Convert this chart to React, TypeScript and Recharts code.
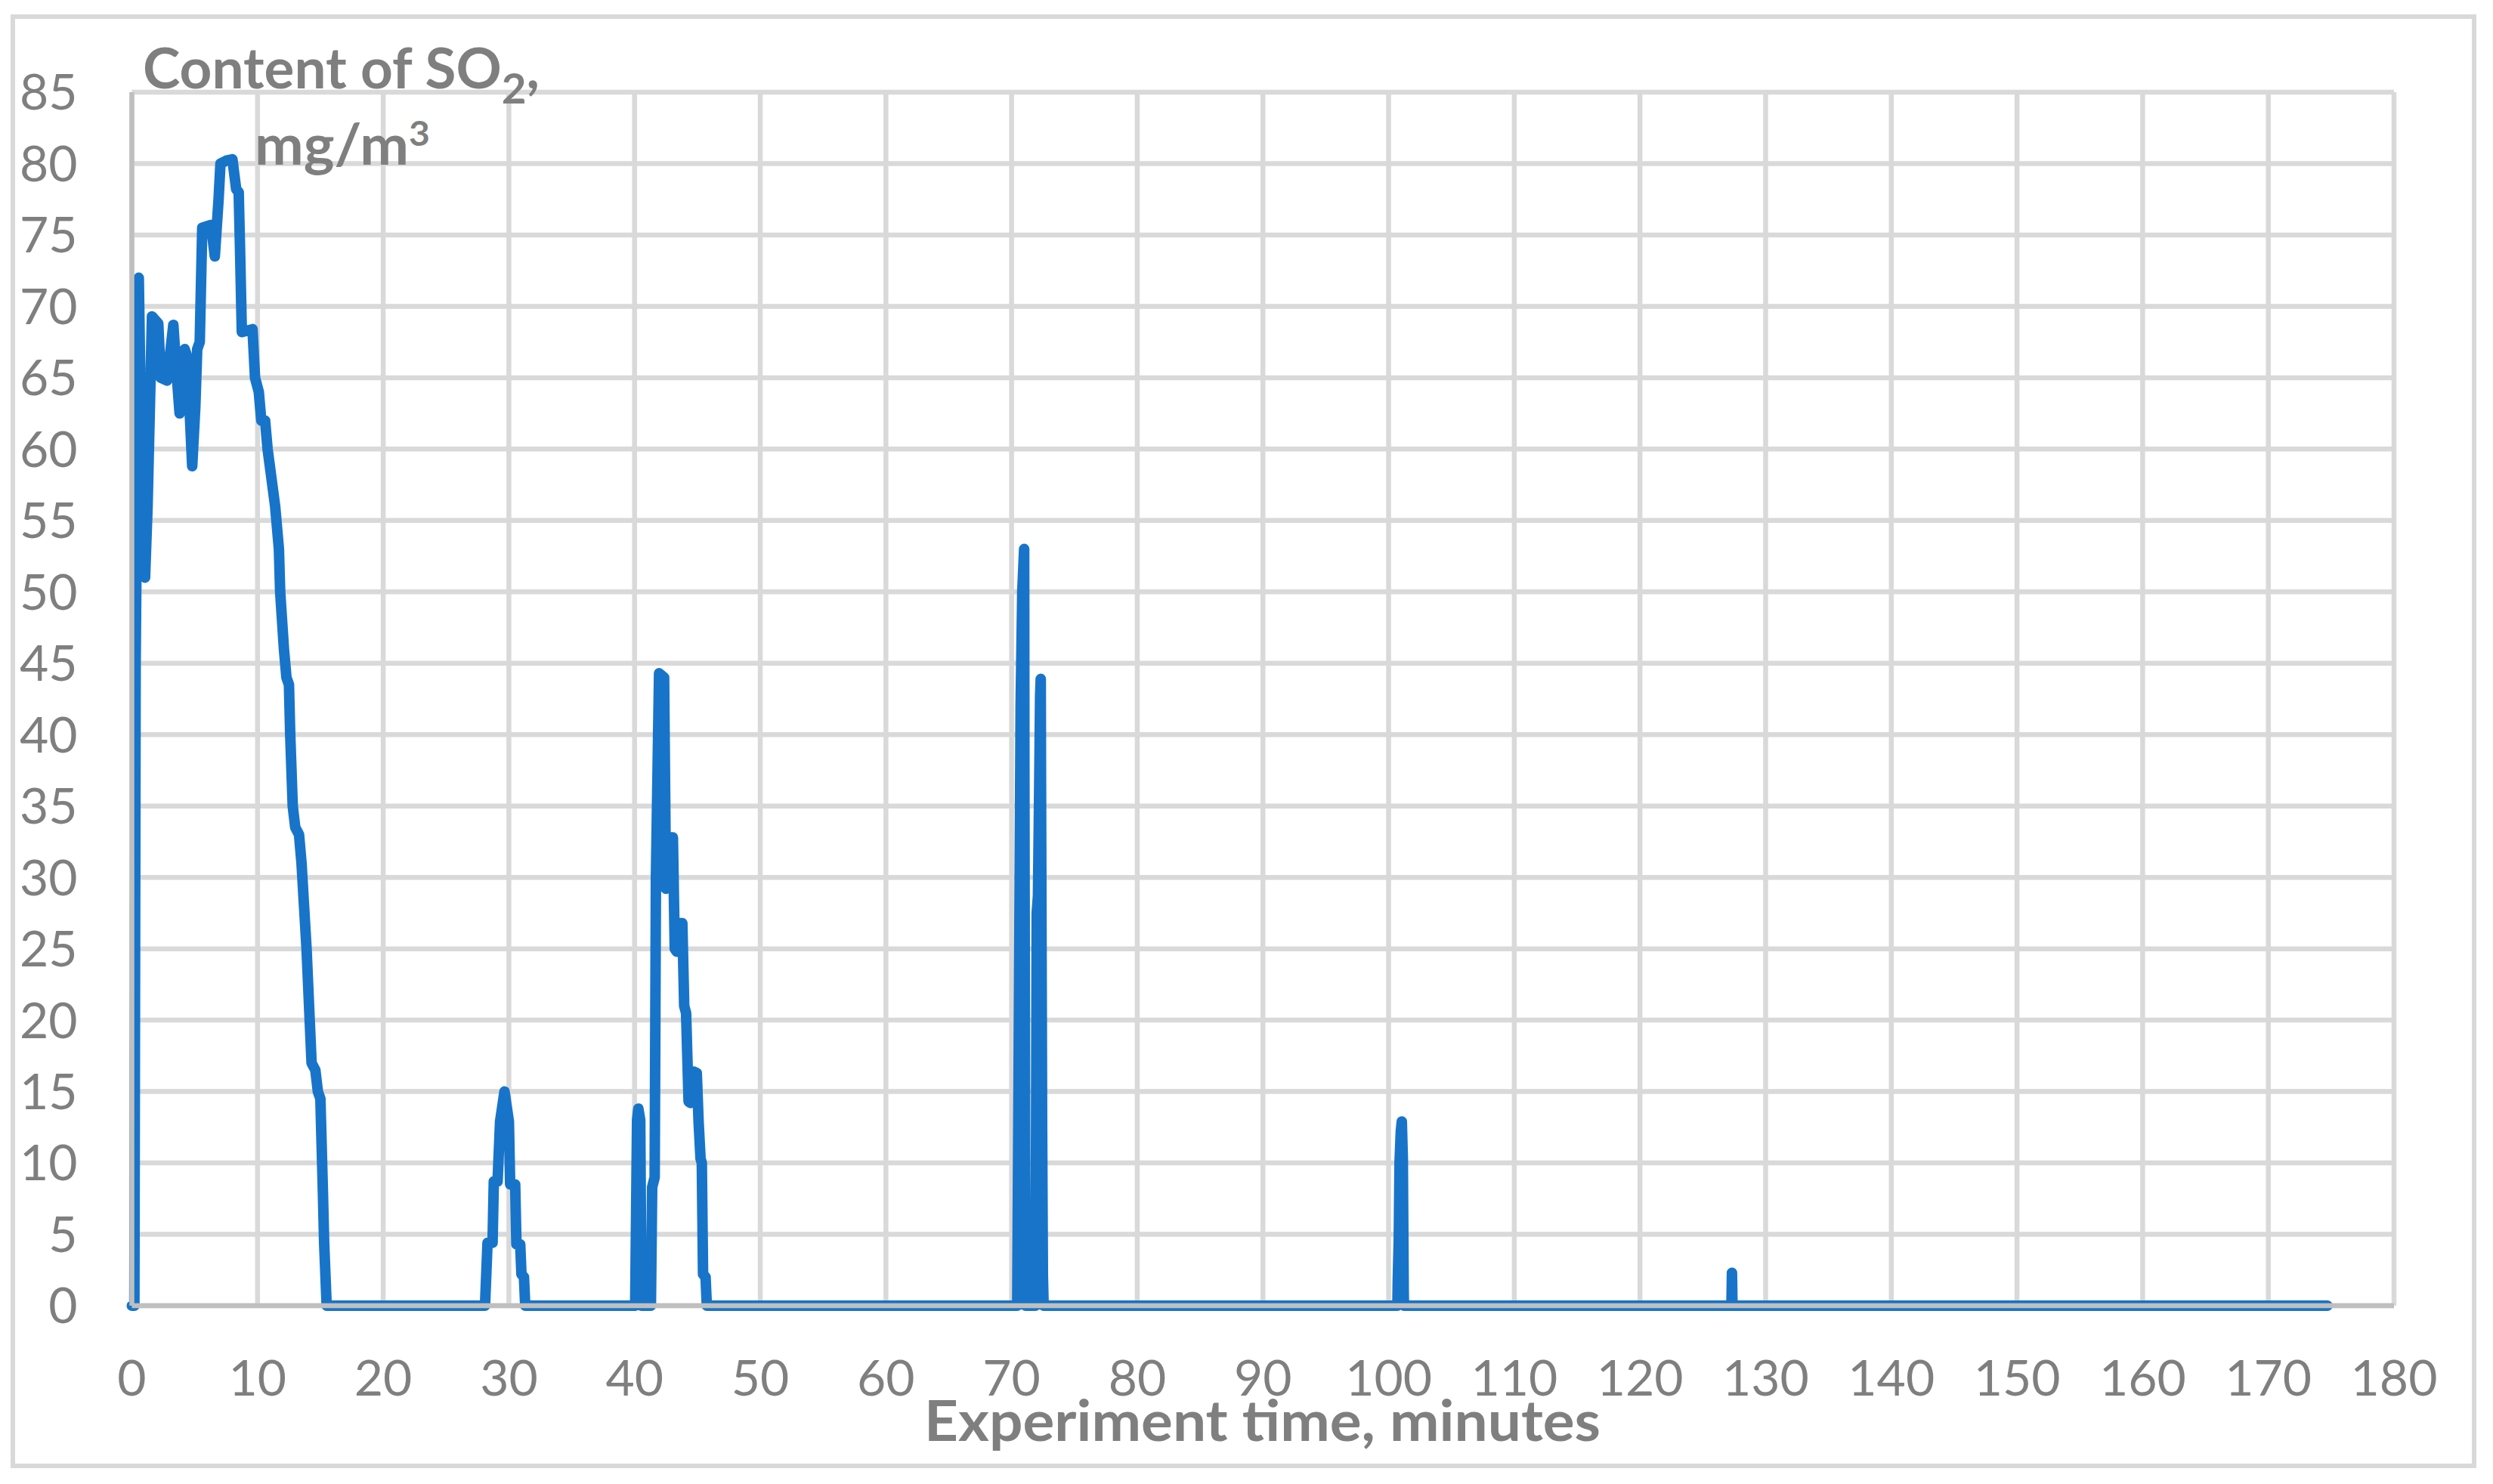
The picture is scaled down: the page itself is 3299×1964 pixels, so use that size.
import React from 'react';
import { LineChart, Line, XAxis, YAxis, CartesianGrid } from 'recharts';

// Experiment time, minutes
const timeMinutes: number[] = [
  0, 0.2, 0.3, 0.55, 0.75, 1.05, 1.25, 1.6, 2.1, 2.3, 2.8, 3.3, 3.5, 3.8, 4.0, 4.2, 4.4, 4.8, 5.05, 5.2, 5.4, 5.6, 6.3, 6.6, 6.9, 7.05, 7.5, 8.0, 8.3, 8.5, 8.6, 8.75, 9.6, 9.8, 10.1, 10.3, 10.6, 10.8, 11.1, 11.4, 11.7, 11.8, 12.1, 12.3, 12.5, 12.6, 12.8, 13.0, 13.3, 13.5, 13.7, 13.9, 14.1, 14.3, 14.6, 14.8, 15.0, 15.2, 15.3, 15.5,
  28.1, 28.3, 28.7, 28.8, 29.1, 29.2, 29.3, 29.65, 30.0, 30.1, 30.5, 30.6, 30.9, 31.0, 31.2, 31.3,
  40.05, 40.2, 40.3, 40.45, 40.55, 41.3, 41.4, 41.6, 41.7, 41.95, 42.35, 42.5, 42.7, 43.05, 43.2, 43.35, 43.5, 43.8, 43.95, 44.1, 44.3, 44.45, 44.7, 44.95, 45.1, 45.25, 45.35, 45.45, 45.65, 45.75,
  70.45, 70.55, 70.65, 70.72, 70.85, 71.0, 71.02, 71.08, 71.12,
  71.9, 71.95, 72.0, 72.1, 72.2, 72.27, 72.32, 72.34, 72.43, 72.49, 72.55,
  100.7, 100.73, 100.81, 100.87, 100.97, 101.05, 101.13, 101.2, 101.22,
  127.28, 127.32, 127.36,
  174.7,
];

// Content of SO2, mg/m3
const so2Values: number[] = [
  0, 0, 45, 72, 60, 51, 56, 69.3, 68.8, 65, 64.8, 68.7, 66, 62.5, 63, 67, 66.5, 58.8, 63, 67, 67.5, 75.5, 75.7, 73.5, 77.5, 80, 80.2, 80.3, 78.2, 78, 74.3, 68.2, 68.4, 65, 64, 62, 62, 60, 58, 56, 53, 50, 46, 44, 43.5, 40, 35, 33.5, 33, 31, 28, 25, 21, 17, 16.5, 15, 14.5, 8, 4.4, 0,
  0, 4.4, 4.4, 8.7, 8.7, 10.8, 12.9, 15, 12.9, 8.5, 8.5, 4.3, 4.3, 2.2, 2, 0,
  0, 13, 13.8, 13, 0, 0, 8.3, 9, 30, 44.3, 44, 29.2, 32.8, 32.8, 25, 24.8, 26.8, 26.8, 21, 20.5, 14.3, 14.2, 16.4, 16.3, 12.8, 10.3, 10, 2.2, 2, 0,
  0, 15, 31, 42, 50, 53, 36, 9.5, 0,
  0, 12, 27.5, 28.7, 36.5, 42.7, 43.9, 37, 12.3, 2.1, 0,
  0, 1.8, 4.7, 10, 12.2, 12.9, 10.3, 1, 0,
  0, 2.3, 0,
  0,
];

const xTicks: number[] = [0, 10, 20, 30, 40, 50, 60, 70, 80, 90, 100, 110, 120, 130, 140, 150, 160, 170, 180];
const yTicks: number[] = [0, 5, 10, 15, 20, 25, 30, 35, 40, 45, 50, 55, 60, 65, 70, 75, 80, 85];

const xTitle = 'Experiment time, minutes';
const yTitleMain = 'Content of SO';
const yTitleSub = '2';
const yTitleUnit = 'mg/m';
const yTitleSup = '3';

const data = timeMinutes.map((t, i) => ({ t, v: so2Values[i] }));

const FONT = 'Lato, "Open Sans", sans-serif';
const GREY = '#7f7f7f';

export default function App() {
  return (
    <div style={{ position: 'absolute', left: 0, top: 0, width: 3299, height: 1964, background: '#ffffff' }}>
      <LineChart
        width={3299}
        height={1964}
        data={data}
        margin={{ top: 122, right: 131, bottom: 136, left: 0 }}
      >
        <CartesianGrid stroke="#d9d9d9" strokeWidth={6.5} />
        <XAxis
          dataKey="t"
          type="number"
          domain={[0, 180]}
          ticks={xTicks}
          interval={0}
          height={100}
          tickSize={0}
          tickMargin={72}
          axisLine={{ stroke: '#bfbfbf', strokeWidth: 6.5 }}
          tickLine={false}
          tick={{ fill: GREY, fontSize: 66, fontFamily: FONT }}
        />
        <YAxis
          type="number"
          domain={[0, 85]}
          ticks={yTicks}
          interval={0}
          width={174.5}
          tickSize={0}
          tickMargin={72}
          axisLine={{ stroke: '#bfbfbf', strokeWidth: 6.5 }}
          tickLine={false}
          tick={{ fill: GREY, fontSize: 66, fontFamily: FONT }}
        />
        <Line
          dataKey="v"
          type="linear"
          stroke="#1874c9"
          strokeWidth={14}
          strokeLinecap="round"
          strokeLinejoin="round"
          dot={false}
          activeDot={false}
          isAnimationActive={false}
        />
      </LineChart>
      <svg
        width={3299}
        height={1964}
        style={{ position: 'absolute', left: 0, top: 0, pointerEvents: 'none' }}
      >
        <rect x={17} y={22} width={3257} height={1918} fill="none" stroke="#d9d9d9" strokeWidth={6} />
        <text
          x={189}
          y={117}
          fill={GREY}
          fontFamily={FONT}
          fontWeight={700}
          fontSize={74}
          textLength={525}
          lengthAdjust="spacingAndGlyphs"
        >
          {yTitleMain}
          <tspan dy={20} fontSize={56}>{yTitleSub}</tspan>
          <tspan dy={-20} fontSize={74}>,</tspan>
        </text>
        <text
          x={337}
          y={218}
          fill={GREY}
          fontFamily={FONT}
          fontWeight={700}
          fontSize={74}
          textLength={232}
          lengthAdjust="spacingAndGlyphs"
        >
          {yTitleUnit}
          <tspan dy={-25} fontSize={46}>{yTitleSup}</tspan>
        </text>
        <text
          x={1223}
          y={1907}
          fill={GREY}
          fontFamily={FONT}
          fontWeight={700}
          fontSize={74}
          textLength={895}
          lengthAdjust="spacingAndGlyphs"
        >
          {xTitle}
        </text>
      </svg>
    </div>
  );
}
